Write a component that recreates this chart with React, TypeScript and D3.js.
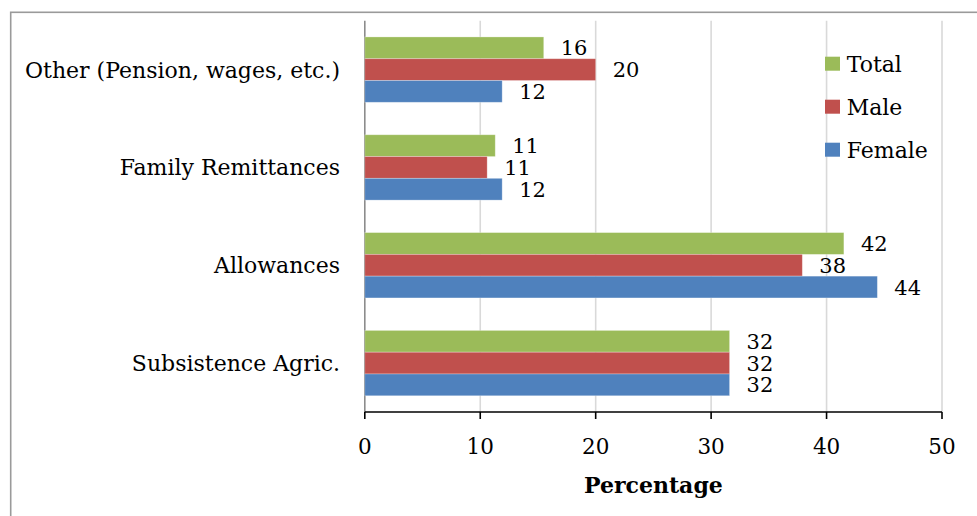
import React from "react";
import * as d3 from "d3";

const categories = ["Other (Pension, wages, etc.)", "Family Remittances", "Allowances", "Subsistence Agric."];
const seriesNames = ["Total", "Male", "Female"];
const totalValues = [15.5, 11.3, 41.5, 31.6];
const maleValues = [20.0, 10.6, 37.9, 31.6];
const femaleValues = [11.9, 11.9, 44.4, 31.6];
const xTicks = [0, 10, 20, 30, 40, 50];
const colors = ["#9BBB59", "#C0504D", "#4F81BD"];

const W = 977;
const H = 516;
const FONT = "'DejaVu Serif', serif";

export default function App() {
  const left = 364.8;
  const right = 942;
  const top = 20.7;
  const bottom = 412;
  const x = d3.scaleLinear().domain([0, 50]).range([left, right]);
  const y = d3.scaleBand<string>().domain(categories).range([top, bottom]).paddingInner(0.332).paddingOuter(0.166);
  const ys = d3.scaleBand<string>().domain(seriesNames).range([0, y.bandwidth()]);
  const values = [totalValues, maleValues, femaleValues];
  const fmt = d3.format(".0f");

  return (
    <svg width={W} height={H} style={{ position: "absolute", left: 0, top: 0, background: "#fff" }} fontFamily={FONT}>
      <rect x={10.7} y={12.3} width={W + 20} height={H + 20} fill="#fff" stroke="#9a9a9a" strokeWidth={1.6} />
      {xTicks.slice(1).map((t) => (
        <line key={"g" + t} x1={x(t)} x2={x(t)} y1={top} y2={bottom} stroke="#d9d9d9" strokeWidth={1.6} />
      ))}
      <line x1={x(0)} x2={x(0)} y1={top} y2={bottom} stroke="#8c8c8c" strokeWidth={1.6} />
      {categories.map((c, ci) => (
        <g key={c}>
          {seriesNames.map((s, si) => {
            const v = values[si][ci];
            const by = (y(c) as number) + (ys(s) as number);
            return (
              <g key={s}>
                <rect x={x(0)} y={by} width={x(v) - x(0)} height={ys.bandwidth()} fill={colors[si]} stroke="#ffffff" strokeOpacity={0.35} strokeWidth={0.8} />
                <text x={x(v) + 17} y={by + ys.bandwidth() / 2} dy="0.36em" fontSize={21} fill="#000">
                  {fmt(v)}
                </text>
              </g>
            );
          })}
          <text x={340} y={(y(c) as number) + y.bandwidth() / 2} dy="0.36em" fontSize={22} textAnchor="end" fill="#000">
            {c}
          </text>
        </g>
      ))}
      <line x1={x(0)} x2={x(50)} y1={bottom} y2={bottom} stroke="#000" strokeWidth={1.6} />
      {xTicks.map((t) => (
        <g key={"t" + t}>
          <line x1={x(t)} x2={x(t)} y1={bottom} y2={bottom + 7} stroke="#000" strokeWidth={1.6} />
          <text x={x(t)} y={454} textAnchor="middle" fontSize={21.5} fill="#000">
            {t}
          </text>
        </g>
      ))}
      <text x={(left + right) / 2} y={493} textAnchor="middle" fontSize={22} fontWeight="bold" fill="#000">
        Percentage
      </text>
      {seriesNames.map((s, i) => (
        <g key={"l" + s}>
          <rect x={825} y={56.7 + i * 43} width={15} height={14} fill={colors[i]} />
          <text x={846.7} y={63.7 + i * 43} dy="0.36em" fontSize={22} fill="#000">
            {s}
          </text>
        </g>
      ))}
    </svg>
  );
}
